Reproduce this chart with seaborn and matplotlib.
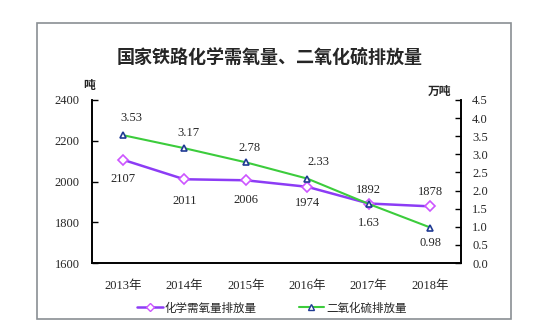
import matplotlib
matplotlib.use("Agg")
import matplotlib.pyplot as plt
import seaborn as sns
import pandas as pd
import numpy as np
from matplotlib.lines import Line2D
from matplotlib.patches import Rectangle

years = ["2013年", "2014年", "2015年", "2016年", "2017年", "2018年"]
cod = [2107, 2011, 2006, 1974, 1892, 1878]
so2 = [3.53, 3.17, 2.78, 2.33, 1.63, 0.98]
left_ticks = [1600, 1800, 2000, 2200, 2400]
right_ticks = [0.0, 0.5, 1.0, 1.5, 2.0, 2.5, 3.0, 3.5, 4.0, 4.5]
title = "国家铁路化学需氧量、二氧化硫排放量"
legend_labels = ["化学需氧量排放量", "二氧化硫排放量"]

sns.set_theme(style="white")
plt.rcParams['font.family'] = ['Liberation Serif', 'Noto Sans CJK SC']
cjk = ['Noto Sans CJK SC', 'DejaVu Sans']
serif = ['Liberation Serif', 'Noto Sans CJK SC']

df = pd.DataFrame({"year": years, "cod": cod, "so2": so2, "x": np.arange(len(years))})

fig = plt.figure(figsize=(5.5, 3.3), dpi=100)
ax = fig.add_axes([92/550, 1-263/330, (461-92)/550, (263-100)/330])
ax2 = ax.twinx()

purple = "#8C3CF5"
green = "#3CCC3C"

sns.lineplot(data=df, x="x", y="cod", ax=ax, color=purple, lw=1.8, marker="D",
             markersize=5, markerfacecolor="white", markeredgecolor="#CC55FF",
             markeredgewidth=1.2, legend=False)
sns.lineplot(data=df, x="x", y="so2", ax=ax2, color=green, lw=1.5, marker="^",
             markersize=5, markerfacecolor="white", markeredgecolor="#1F3A93",
             markeredgewidth=1.2, legend=False)

ax.set_xlim(-0.5, len(years) - 0.5)
ax.set_ylim(1600, 2400)
ax2.set_ylim(0, 4.5)
ax.set_yticks(left_ticks)
ax.set_yticklabels([str(t) for t in left_ticks], fontsize=9, family=serif)
ax2.set_yticks(right_ticks)
ax2.set_yticklabels([f"{t:.1f}" for t in right_ticks], fontsize=9, family=serif)
ax.set_xticks(np.arange(len(years)))
ax.set_xticklabels(years, fontsize=9, family=serif)
ax.set_xticks(np.arange(len(years) - 1) + 0.5, minor=True)
ax.tick_params(axis="x", which="major", length=0, pad=12)
ax.tick_params(axis="x", which="minor", direction="in", length=4, width=1, color="black")
ax.tick_params(axis="y", direction="in", length=4, width=1, color="black", pad=9, left=True)
ax2.tick_params(axis="y", direction="in", length=4, width=1, color="black", pad=8, right=True)
ax.set_xlabel("")
ax.set_ylabel("")
ax2.set_ylabel("")
for a in (ax, ax2):
    for s in ["left", "right", "bottom"]:
        a.spines[s].set_visible(True)
        a.spines[s].set_color("black")
        a.spines[s].set_linewidth(1.2)
    a.spines["top"].set_visible(False)
ax.grid(False)
ax2.grid(False)

# data labels (offsets in points)
cod_off = [(0, -14), (0, -16), (0, -14), (0, -12), (0, 10), (0, 10)]
so2_off = [(6, 12), (3, 11), (3, 10), (8, 12), (0, -14), (0, -11)]
for i in range(len(years)):
    ax.annotate(str(cod[i]), (i, cod[i]), xytext=cod_off[i], textcoords="offset points",
                ha="center", va="center", fontsize=9, family=serif)
    ax2.annotate(f"{so2[i]:.2f}", (i, so2[i]), xytext=so2_off[i], textcoords="offset points",
                 ha="center", va="center", fontsize=9, family=serif)

# frame border
fig.patches.append(Rectangle((37/550, 1-319/330), (511-37)/550, (319-23)/330,
                             transform=fig.transFigure, fill=False, edgecolor="#8a8f94", lw=1.2))

fig.text(270/550, 1-58/330, title, ha="center", va="center", fontsize=13, family=cjk,
         fontweight="bold")
fig.text(89/550, 1-85/330, "吨", ha="center", va="center", fontsize=8.5, family=cjk, fontweight="bold")
fig.text(440/550, 1-91/330, "万吨", ha="center", va="center", fontsize=8.5, family=cjk, fontweight="bold")

handles = [
    Line2D([], [], color=purple, lw=1.8, marker="D", markersize=4, markerfacecolor="white",
           markeredgecolor="#CC55FF"),
    Line2D([], [], color=green, lw=1.5, marker="^", markersize=4, markerfacecolor="white",
           markeredgecolor="#1F3A93"),
]
fig.legend(handles, legend_labels, loc="center", bbox_to_anchor=(272/550, 1-308/330), ncol=2,
           frameon=False, prop={"family": cjk, "size": 8.3}, handlelength=2.2, handletextpad=0.2,
           columnspacing=3.6)

fig.savefig("out.png", dpi=100)
